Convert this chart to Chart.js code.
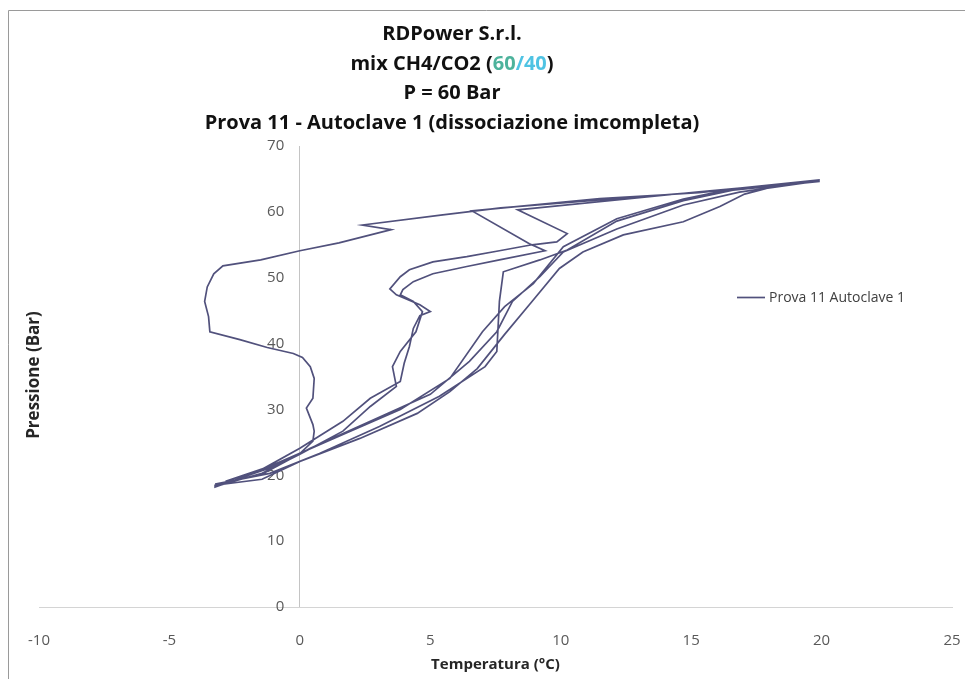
<!doctype html>
<html lang="it">
<head>
<meta charset="utf-8">
<title>Prova 11 - Autoclave 1</title>
<script src="https://cdn.jsdelivr.net/npm/chart.js@4.4.1/dist/chart.umd.min.js"></script>
<style>
  html, body { margin: 0; padding: 0; background: #fff; }
  #wrap { width: 965px; height: 679px; position: relative; }
</style>
</head>
<body>
<div id="wrap"><canvas id="chart"></canvas></div>
<script>
// axis ticks
const tempTicks = [-10, -5, 0, 5, 10, 15, 20, 25];
const pressTicks = [0, 10, 20, 30, 40, 50, 60, 70];

// run legs, [temperatura °C, pressione bar]
const cooling1 = [
  [19.9, 64.7], [15.3, 63.0], [11.5, 61.8], [7.7, 60.6], [5.4, 59.5], [2.4, 58.0], [3.5, 57.3],
  [1.5, 55.3], [0.0, 54.1], [-1.5, 52.7], [-2.95, 51.8], [-3.3, 50.6], [-3.55, 48.6], [-3.65, 46.4],
  [-3.5, 44.1], [-3.45, 41.8], [-2.3, 40.6], [-1.25, 39.4], [-0.25, 38.5], [0.1, 37.9], [0.4, 36.5],
  [0.55, 34.7], [0.5, 31.7], [0.25, 30.2], [0.5, 27.7], [0.55, 26.7], [0.5, 25.2], [0.0, 23.3],
  [-1.15, 21.1], [-2.3, 19.55], [-3.25, 18.2]
];
const heating1 = [
  [-3.25, 18.5], [-1.45, 19.4], [0.0, 22.1], [2.3, 25.6], [4.5, 29.4], [5.75, 32.7], [6.8, 36.2],
  [7.85, 41.4], [8.9, 46.4], [9.95, 51.4], [10.85, 53.9], [12.4, 56.5], [14.7, 58.5], [16.1, 60.8],
  [17.05, 62.7], [18.4, 64.1], [19.9, 64.7]
];
const cooling2 = [
  [19.9, 64.85], [15.3, 62.9], [11.5, 62.0], [6.6, 60.15], [8.8, 55.15], [9.4, 54.1], [7.65, 52.7],
  [6.4, 51.7], [5.1, 50.6], [4.35, 49.4], [3.95, 48.2], [3.85, 47.4], [4.35, 46.4], [4.7, 44.85],
  [4.45, 41.8], [3.85, 38.8], [3.55, 36.5], [3.7, 33.5], [2.7, 30.45], [1.65, 26.7], [0.0, 23.2],
  [-1.45, 20.3], [-3.05, 18.5]
];
const heating2 = [
  [-3.05, 18.8], [-1.45, 20.15], [0.4, 24.1], [2.7, 28.2], [5.0, 32.3], [6.5, 37.3], [7.55, 41.8],
  [8.15, 46.4], [9.2, 50.15], [10.1, 53.9], [12.15, 57.4], [14.7, 61.05], [16.85, 63.0], [19.9, 64.7]
];
const cooling3 = [
  [19.9, 64.7], [15.3, 63.05], [8.35, 60.3], [10.25, 56.7], [9.85, 55.45], [8.9, 55.0], [7.65, 54.1],
  [6.4, 53.2], [5.1, 52.4], [4.2, 51.2], [3.85, 50.15], [3.45, 48.3], [3.7, 47.4], [4.6, 45.9],
  [5.0, 44.85], [4.6, 44.25], [4.35, 42.3], [4.2, 39.55], [4.0, 37.0], [3.85, 34.25], [2.7, 31.7],
  [1.65, 28.2], [0.0, 24.1], [-1.45, 20.9], [-2.85, 19.1]
];
const heating3 = [
  [-2.85, 19.1], [-1.15, 21.35], [1.65, 26.2], [3.85, 30.0], [5.75, 34.7], [7.0, 41.8], [7.85, 45.6],
  [8.95, 49.1], [10.1, 54.7], [12.15, 58.95], [14.7, 61.95], [16.6, 63.5], [19.9, 64.85]
];
const cooling4 = [
  [19.9, 64.6], [16.6, 63.3], [14.7, 61.7], [12.15, 58.6], [10.25, 54.2], [9.2, 52.7], [7.8, 50.9],
  [7.65, 46.4], [7.55, 38.8], [7.1, 36.5], [5.35, 32.0], [3.05, 27.4], [0.75, 23.3], [-1.15, 20.3],
  [-3.25, 18.65]
];

const seriesLabel = 'Prova 11 Autoclave 1';
const titleLines = [
  [['RDPower S.r.l.', '#111']],
  [['mix CH4/CO2 (', '#111'], ['60', '#4db39c'], ['/40', '#4fc3e3'], [')', '#111']],
  [['P = 60 Bar', '#111']],
  [['Prova 11 - Autoclave 1 (dissociazione imcompleta)', '#111']]
];

const points = [cooling1, heating1, cooling2, heating2, cooling3, heating3, cooling4]
  .flat()
  .map(p => ({x: p[0], y: p[1]}));

const FONT = "'Open Sans', 'DejaVu Sans', sans-serif";
const lineColor = '#51517c';

// frame, title, y axis title and legend are drawn by hand like the Excel original
const extras = {
  id: 'extras',
  beforeDraw(chart) {
    const ctx = chart.ctx;
    ctx.save();
    ctx.strokeStyle = '#9a9a9a';
    ctx.lineWidth = 1;
    ctx.beginPath();
    ctx.moveTo(8.5, 679);
    ctx.lineTo(8.5, 10.5);
    ctx.lineTo(965, 10.5);
    ctx.stroke();
    ctx.restore();
  },
  afterDraw(chart) {
    const ctx = chart.ctx;
    ctx.save();
    // title
    ctx.font = 'bold 20px ' + FONT;
    ctx.textBaseline = 'alphabetic';
    ctx.textAlign = 'left';
    titleLines.forEach((parts, i) => {
      const total = parts.reduce((w, p) => w + ctx.measureText(p[0]).width, 0);
      let x = 452 - total / 2;
      const y = 40 + i * 29.5;
      parts.forEach(p => {
        ctx.fillStyle = p[1];
        ctx.fillText(p[0], x, y);
        x += ctx.measureText(p[0]).width;
      });
    });
    // y axis title
    ctx.font = 'bold 17px ' + FONT;
    ctx.fillStyle = '#262626';
    ctx.textAlign = 'center';
    ctx.textBaseline = 'middle';
    ctx.translate(34, 375);
    ctx.rotate(-Math.PI / 2);
    ctx.fillText('Pressione (Bar)', 0, 0);
    ctx.restore();

    // legend
    ctx.save();
    ctx.strokeStyle = lineColor;
    ctx.lineWidth = 1.7;
    ctx.beginPath();
    ctx.moveTo(737, 297.5);
    ctx.lineTo(765, 297.5);
    ctx.stroke();
    ctx.font = '14px ' + FONT;
    ctx.fillStyle = '#404040';
    ctx.textBaseline = 'middle';
    ctx.fillText(chart.data.datasets[0].label, 769, 298);
    ctx.restore();
  }
};

new Chart(document.getElementById('chart'), {
  type: 'scatter',
  data: {
    datasets: [{
      label: seriesLabel,
      data: points,
      showLine: true,
      borderColor: lineColor,
      backgroundColor: lineColor,
      borderWidth: 1.7,
      pointRadius: 0,
      tension: 0
    }]
  },
  options: {
    responsive: true,
    maintainAspectRatio: false,
    animation: false,
    layout: { padding: { top: 146, left: 39, right: 13, bottom: 0 } },
    plugins: {
      legend: { display: false },
      title: { display: false },
      tooltip: { enabled: false }
    },
    scales: {
      x: {
        type: 'linear',
        position: 'bottom',
        min: -10,
        max: 25,
        afterBuildTicks: s => { s.ticks = tempTicks.map(v => ({value: v})); },
        grid: {
          display: true,
          drawOnChartArea: true,
          // only the 0 °C line is shown: it is the vertical axis of the Excel chart
          color: c => (c.tick && c.tick.value === 0 ? '#c4c4c4' : 'rgba(0,0,0,0)'),
          drawTicks: true,
          tickLength: 25,
          tickColor: 'rgba(0,0,0,0)'
        },
        border: { display: true, color: '#d4d4d4', width: 1 },
        ticks: { padding: 0, color: '#595959', font: { family: FONT, size: 15 } },
        title: {
          display: true,
          text: 'Temperatura (°C)',
          color: '#262626',
          font: { family: FONT, size: 15, weight: 'bold' },
          padding: { top: 6, bottom: 5 }
        }
      },
      y: {
        type: 'linear',
        position: { x: -0.6 },
        min: 0,
        max: 70,
        afterBuildTicks: s => { s.ticks = pressTicks.map(v => ({value: v})); },
        grid: { display: false, drawTicks: false },
        border: { display: false },
        ticks: { padding: 0, color: '#595959', font: { family: FONT, size: 15 } }
      }
    }
  },
  plugins: [extras]
});
</script>
</body>
</html>
